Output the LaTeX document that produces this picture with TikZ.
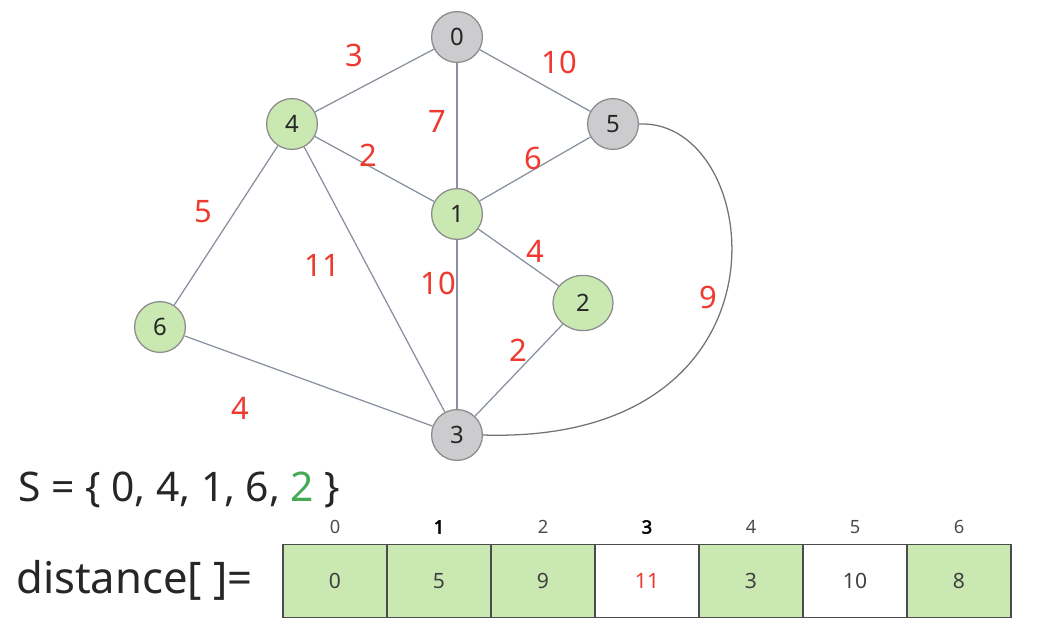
\documentclass[tikz,border=0pt]{standalone}
\usepackage{fontspec}
\setmainfont{Noto Sans}
\newfontfamily\heavy{Noto Sans}[FakeBold=3]
\usetikzlibrary{positioning,calc,shapes.geometric}
\definecolor{Leaf}{RGB}{202,232,178}
\definecolor{Ash}{RGB}{204,204,207}
\definecolor{Rim}{RGB}{140,140,140}
\definecolor{Wire}{RGB}{135,145,160}
\definecolor{Wt}{RGB}{238,58,48}
\definecolor{Done}{RGB}{70,170,85}

\begin{document}
\begin{tikzpicture}[x=0.025cm,y=-0.025cm,
 v/.style={circle,draw=Rim,line width=.9pt,minimum size=1.27cm,inner sep=0pt,text=black!85,font=\fontsize{17}{17}\selectfont},
 vg/.style={v,fill=Leaf},
 vk/.style={v,fill=Ash},
 e/.style={Wire,line width=.9pt},
 w/.style={text=Wt,font=\fontsize{22}{22}\selectfont},
 cell/.style={draw=black!70,line width=.8pt,minimum width=2.6cm,minimum height=1.83cm,inner sep=0pt,text=black!75,font=\fontsize{15}{15}\selectfont},
 idx/.style={text=black!70,font=\fontsize{13}{13}\selectfont}]
\useasboundingbox (0,0) rectangle (1046,640);
% graph
\node[vk] (n0) at (457,37) {0};
\node[vg] (n4) at (292,124) {4};
\node[vk] (n5) at (613,124) {5};
\node[vg] (n1) at (457,214) {1};
\node[vg,ellipse,minimum width=1.5cm,minimum height=1.38cm] (n2) at (583,303) {2};
\node[vg] (n6) at (160,327) {6};
\node[vk] (n3) at (457,435) {3};
\draw[e] (n0)--(n4);\draw[e] (n0)--(n1);\draw[e] (n0)--(n5);
\draw[e] (n4)--(n1);\draw[e] (n4)--(n6);\draw[e] (n4)--(n3);
\draw[e] (n1)--(n5);\draw[e] (n1)--(n2);\draw[e] (n1)--(n3);
\draw[e] (n2)--(n3);\draw[e] (n6)--(n3);
\draw[e,black!55] (n5.east) .. controls (765,118) and (805,445) .. (n3.east);
% weights
\node[w] (w04) at (354,55) {3};
\node[w] (w05) at (559,62) {10};
\node[w] (w01) at (437,121) {7};
\node[w] (w41) at (368,155) {2};
\node[w] (w15) at (533,158) {6};
\node[w] (w46) at (203,212) {5};
\node[w] (w43) at (322,265) {11};
\node[w] (w12) at (535,251) {4};
\node[w] (w13) at (438,283) {10};
\node[w] (w53) at (708,297) {9};
\node[w] (w23) at (518,350) {2};
\node[w] (w63) at (240,408) {4};
% set and table
\node[anchor=west,inner sep=0pt,text=black!85,font=\fontsize{29}{29}\selectfont] (set) at (18,490) {S = \{ 0, 4, 1, 6, \textcolor{Done}{2} \}};
\node[anchor=west,inner sep=0pt,text=black!85,font=\fontsize{31}{31}\selectfont] (dist) at (16,580) {distance[ ]=};
\node[cell,fill=Leaf] (c0) at (335,581) {0};
\node[cell,fill=Leaf] (c1) at (439,581) {5};
\node[cell,fill=Leaf] (c2) at (543,581) {9};
\node[cell,fill=white,text=Wt] (c3) at (647,581) {11};
\node[cell,fill=Leaf] (c4) at (751,581) {3};
\node[cell,fill=white] (c5) at (855,581) {10};
\node[cell,fill=Leaf] (c6) at (959,581) {8};
\node[idx] (i0) at (335,527) {0};
\node[idx,text=black] (i1) at (439,527) {\heavy 1};
\node[idx] (i2) at (543,527) {2};
\node[idx,text=black] (i3) at (647,527) {\heavy 3};
\node[idx] (i4) at (751,527) {4};
\node[idx] (i5) at (855,527) {5};
\node[idx] (i6) at (959,527) {6};
\end{tikzpicture}
\end{document}
